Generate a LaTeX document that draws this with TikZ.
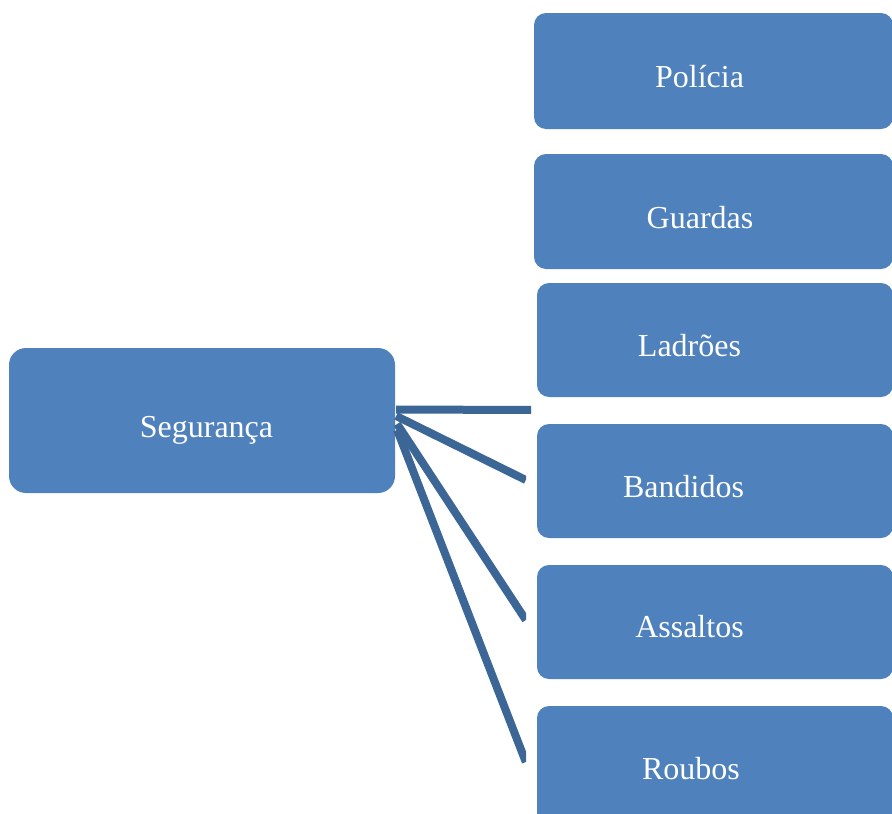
\documentclass[tikz,border=0pt]{standalone}
\usepackage{fontspec}
\setmainfont{Liberation Serif}
\definecolor{boxblue}{HTML}{4F81BD}
\definecolor{lineblue}{HTML}{3B6696}
\begin{document}
\begin{tikzpicture}[x=1pt,y=-1pt,
  box/.style={fill=boxblue, rounded corners=12pt, inner sep=0pt},
  lbl/.style={text=white, font=\fontsize{32}{36}\selectfont, inner sep=0pt, anchor=base},
  conn/.style={draw=lineblue, line width=8pt}]
\useasboundingbox (0,0) rectangle (892,814);
\fill[white] (0,0) rectangle (892,814);
\begin{scope}
\clip (0,0) rectangle (892,814);
% boxes
\node[box, rounded corners=17pt, minimum width=386pt, minimum height=145pt] (seg) at (202,420.5) {};
\node[box, minimum width=359pt, minimum height=116pt] (pol) at (713.5,71) {};
\node[box, minimum width=359pt, minimum height=115pt] (gua) at (713.5,211.5) {};
\node[box, minimum width=356pt, minimum height=114pt] (lad) at (715,340) {};
\node[box, minimum width=356pt, minimum height=114pt] (ban) at (715,481) {};
\node[box, minimum width=356pt, minimum height=114pt] (ass) at (715,622) {};
\node[box, minimum width=356pt, minimum height=124pt] (rou) at (715,768) {};
% labels
\node[lbl] at (206.5,437) {Segurança};
\node[lbl] at (699.5,87) {Polícia};
\node[lbl] at (700,228) {Guardas};
\node[lbl] at (689.5,356) {Ladrões};
\node[lbl] at (683.5,497) {Bandidos};
\node[lbl] at (689.5,637) {Assaltos};
\node[lbl] at (691,779) {Roubos};
\end{scope}
% connectors
\coordinate (s1) at ([shift={(1,-11)}]seg.east);
\coordinate (s2) at ([shift={(1,-4.5)}]seg.east);
\coordinate (s3) at ([shift={(2,3.5)}]seg.east);
\coordinate (s4) at ([shift={(2,9.5)}]seg.east);
\coordinate (e1) at ([shift={(-4,70)}]lad.west);
\coordinate (e2) at ([shift={(-11,-1)}]ban.west);
\coordinate (e3) at ([shift={(-11,-2)}]ass.west);
\coordinate (e4) at ([shift={(-11,-6)}]rou.west);
\begin{scope}
\clip (380,380) rectangle (531,800);
\draw[conn] (s1) -- (e1);
\end{scope}
\begin{scope}
\clip (380,380) rectangle (526,800);
\draw[conn] (s2) -- (e2);
\draw[conn] (s3) -- (e3);
\draw[conn] (s4) -- (e4);
\end{scope}
\end{tikzpicture}
\end{document}
